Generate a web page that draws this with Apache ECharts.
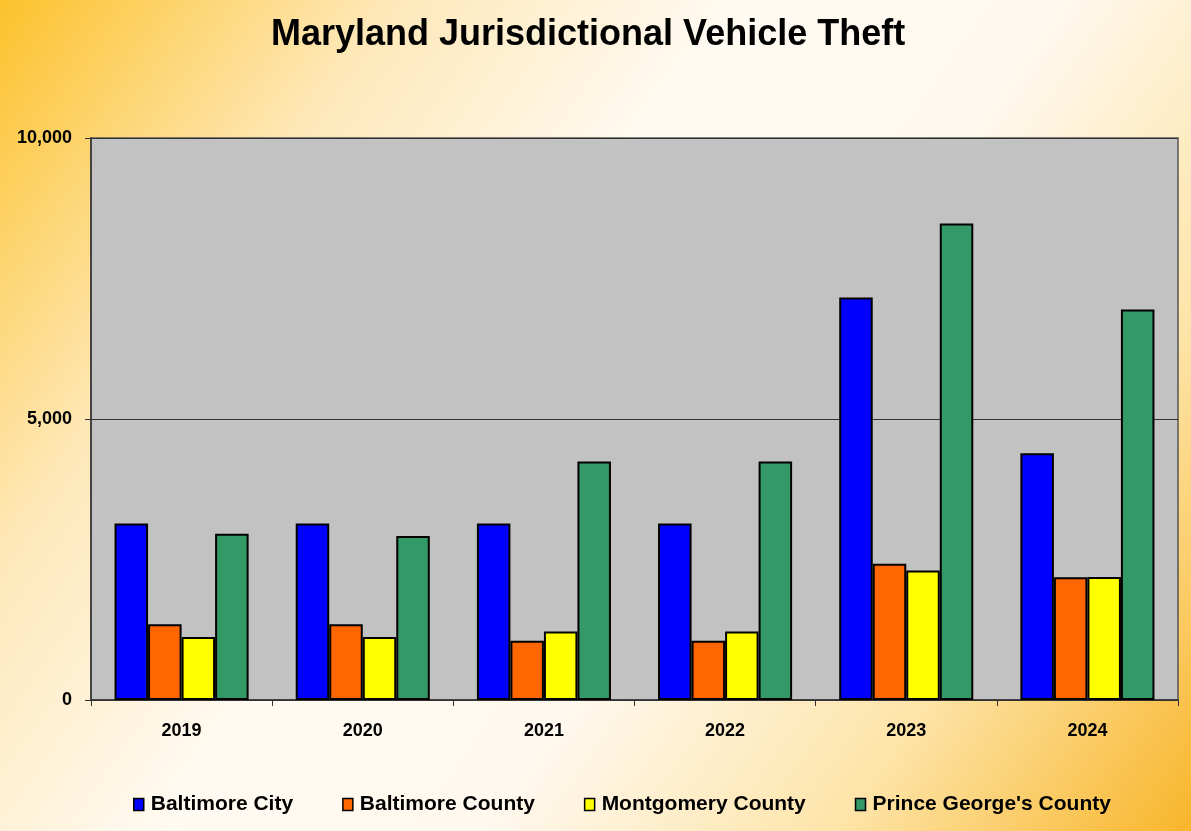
<!DOCTYPE html>
<html>
<head>
<meta charset="utf-8">
<script src="https://cdn.jsdelivr.net/npm/echarts@6/dist/echarts.min.js"></script>
<style>
html,body{margin:0;padding:0;width:1191px;height:831px;overflow:hidden;}
#c{width:1191px;height:831px;}
</style>
</head>
<body>
<div id="c"></div>
<script>
const years = ['2019','2020','2021','2022','2023','2024'];
const baltimoreCity = [3140, 3140, 3140, 3140, 7160, 4390];
const baltimoreCounty = [1350, 1350, 1055, 1055, 2425, 2185];
const montgomeryCounty = [1120, 1120, 1220, 1220, 2305, 2190];
const princeGeorges = [2960, 2920, 4245, 4245, 8480, 6950];
const yTicks = [0, 5000, 10000];

const seriesNames = ['Baltimore City','Baltimore County','Montgomery County',"Prince George's County"];
const seriesData = [baltimoreCity, baltimoreCounty, montgomeryCounty, princeGeorges];
const colors = ['#0000ff','#ff6600','#ffff00','#339966'];

const chart = echarts.init(document.getElementById('c'));
chart.setOption({
  backgroundColor: new echarts.graphic.LinearGradient(0,0,1,1,[
    {offset:0, color:'#fcc22c'},
    {offset:0.22, color:'#fee8b8'},
    {offset:0.42, color:'#fffaf2'},
    {offset:0.6, color:'#fff8ee'},
    {offset:0.8, color:'#fde4a8'},
    {offset:1, color:'#f8b52a'}
  ]),
  animation:false,
  title:{
    text:'Maryland Jurisdictional Vehicle Theft',
    left:266, top:12,
    textStyle:{fontFamily:'Liberation Sans, Arial, sans-serif', fontSize:36, fontWeight:'bold', color:'#000'}
  },
  legend:{
    data: seriesNames,
    left:128, top:789,
    icon:'rect', itemWidth:10, itemHeight:12, itemGap:49,
    textStyle:{fontFamily:'Liberation Sans, Arial, sans-serif', fontSize:21, fontWeight:'bold', color:'#000', padding:[0,0,0,2]},
    itemStyle:{borderColor:'#000', borderWidth:1.5}
  },
  grid:{
    left:91, right:13, top:138, bottom:131,
    show:true, backgroundColor:'#c2c2c2', borderColor:'#555', borderWidth:1.5
  },
  xAxis:{
    type:'category', data: years,
    axisLine:{lineStyle:{color:'#333', width:1.5}},
    axisTick:{show:true, length:6, lineStyle:{color:'#333'}},
    axisLabel:{margin:22, fontFamily:'Liberation Sans, Arial, sans-serif', fontSize:18, fontWeight:'bold', color:'#000'}
  },
  yAxis:{
    type:'value', min:0, max:10000, interval:5000,
    axisLine:{show:true, lineStyle:{color:'#333', width:1.5}},
    axisTick:{show:true, length:6, lineStyle:{color:'#333'}},
    splitLine:{show:true, lineStyle:{color:'#333', width:1.2}},
    axisLabel:{margin:19, fontFamily:'Liberation Sans, Arial, sans-serif', fontSize:18, fontWeight:'bold', color:'#000',
      formatter: v => yTicks.includes(v) ? v.toLocaleString('en-US') : ''}
  },
  series: seriesData.map((d,i)=>({
    name: seriesNames[i], type:'bar', data:d,
    barGap:'0%', barCategoryGap:'26%',
    itemStyle:{color:colors[i], borderColor:'#000', borderWidth:2}
  }))
});
</script>
</body>
</html>
